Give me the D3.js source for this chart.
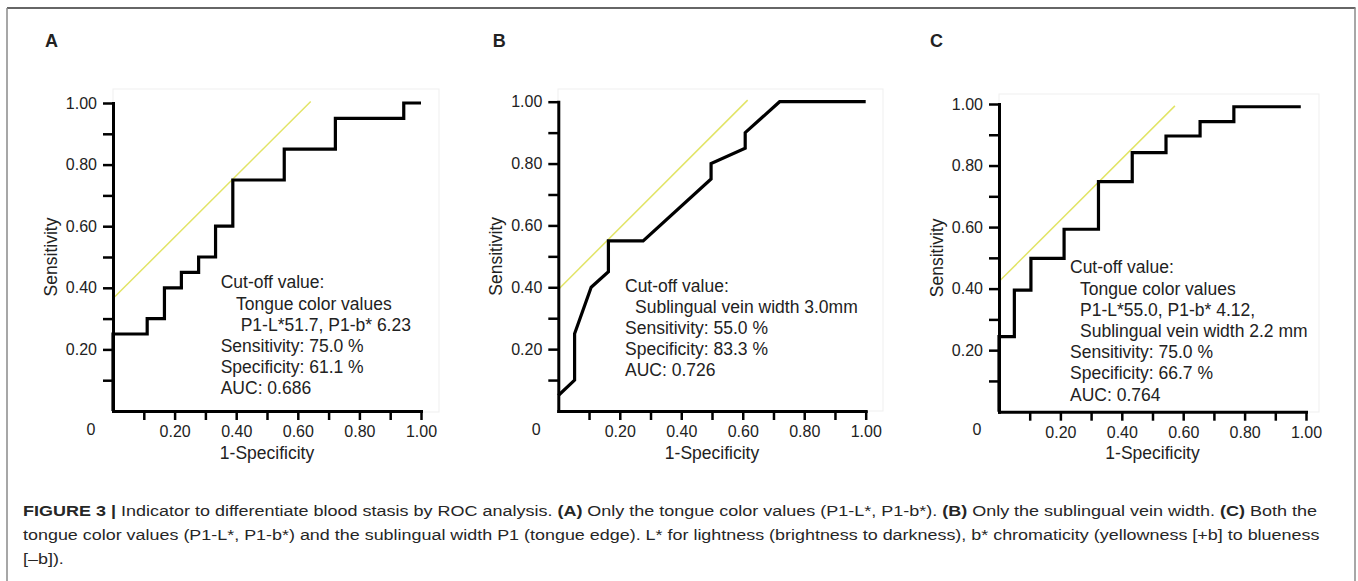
<!DOCTYPE html>
<html>
<head>
<meta charset="utf-8">
<script src="https://cdn.jsdelivr.net/npm/d3@7"></script>
<style>
  html, body { margin: 0; padding: 0; background: #fff; }
  svg { display: block; }
  text { font-family: "Liberation Sans", Arial, Helvetica, sans-serif; white-space: pre; }
</style>
</head>
<body>
<svg id="chart" width="1358" height="581"></svg>
<script>
// ---------------- DATA ----------------
const panelLabels = ["A", "B", "C"];
const xTickValues = [0.1, 0.2, 0.3, 0.4, 0.5, 0.6, 0.7, 0.8, 0.9, 1.0];
const yTickValues = [0.1, 0.2, 0.3, 0.4, 0.5, 0.6, 0.7, 0.8, 0.9, 1.0];
const labelledTicks = [0.2, 0.4, 0.6, 0.8, 1.0];
const tickLabels = ["0.20", "0.40", "0.60", "0.80", "1.00"];
const originLabel = "0";
const xTitle = "1-Specificity";
const yTitle = "Sensitivity";

// Panel A: tongue colour values
const rocA_fpr = [0, 0, 0.111, 0.111, 0.167, 0.167, 0.222, 0.222, 0.278, 0.278, 0.333, 0.333, 0.389, 0.389, 0.556, 0.556, 0.722, 0.722, 0.944, 0.944, 1.0];
const rocA_tpr = [0, 0.25, 0.25, 0.30, 0.30, 0.40, 0.40, 0.45, 0.45, 0.50, 0.50, 0.60, 0.60, 0.75, 0.75, 0.85, 0.85, 0.95, 0.95, 1.0, 1.0];
const tangentA_x = [0, 0.642];
const tangentA_y = [0.365, 1.005];
const annotA = ["Cut-off value:", "Tongue color values", "P1-L*51.7, P1-b* 6.23", "Sensitivity: 75.0 %", "Specificity: 61.1 %", "AUC: 0.686"];

// Panel B: sublingual vein width
const rocB_fpr = [0, 0.053, 0.053, 0.107, 0.163, 0.163, 0.276, 0.497, 0.497, 0.608, 0.608, 0.72, 1.0];
const rocB_tpr = [0.05, 0.10, 0.25, 0.40, 0.45, 0.55, 0.55, 0.75, 0.80, 0.85, 0.90, 1.0, 1.0];
const tangentB_x = [0, 0.616];
const tangentB_y = [0.393, 1.005];
const annotB = ["Cut-off value:", "Sublingual vein width 3.0mm", "Sensitivity: 55.0 %", "Specificity: 83.3 %", "AUC: 0.726"];

// Panel C: both
const rocC_fpr = [0, 0, 0.05, 0.05, 0.104, 0.104, 0.212, 0.212, 0.324, 0.324, 0.434, 0.434, 0.544, 0.544, 0.655, 0.655, 0.765, 0.765, 0.983];
const rocC_tpr = [0, 0.244, 0.244, 0.395, 0.395, 0.498, 0.498, 0.593, 0.593, 0.748, 0.748, 0.842, 0.842, 0.896, 0.896, 0.943, 0.943, 0.991, 0.991];
const tangentC_x = [0, 0.573];
const tangentC_y = [0.423, 0.994];
const annotC = ["Cut-off value:", "Tongue color values", "P1-L*55.0, P1-b* 4.12,", "Sublingual vein width 2.2 mm", "Sensitivity: 75.0 %", "Specificity: 66.7 %", "AUC: 0.764"];

// Caption (text, bold?)
const captionLine1 = [["FIGURE 3 | ", true], ["Indicator to differentiate blood stasis by ROC analysis. ", false], ["(A)", true], [" Only the tongue color values (P1-L*, P1-b*). ", false], ["(B)", true], [" Only the sublingual vein width. ", false], ["(C)", true], [" Both the", false]];
const captionLine2 = [["tongue color values (P1-L*, P1-b*) and the sublingual width P1 (tongue edge). L* for lightness (brightness to darkness), b* chromaticity (yellowness [+b] to blueness", false]];
const captionLine3 = [["[\u2013b]).", false]];

// ---------------- LAYOUT ----------------
const panels = [
  { fpr: rocA_fpr, tpr: rocA_tpr, tx: tangentA_x, ty: tangentA_y, annot: annotA,
    x0: 113, x1: 421, y0: 411, y1: 103, bg: [113, 89, 439, 412],
    labelX: 45, annX: 220.7, annY: 288.3, indents: [0, 15.3, 20, 0, 0, 0] },
  { fpr: rocB_fpr, tpr: rocB_tpr, tx: tangentB_x, ty: tangentB_y, annot: annotB,
    x0: 558.3, x1: 865.7, y0: 411, y1: 101.7, bg: [558, 89, 883, 411],
    labelX: 492.7, annX: 625, annY: 291.5, indents: [0, 10, 0, 0, 0] },
  { fpr: rocC_fpr, tpr: rocC_tpr, tx: tangentC_x, ty: tangentC_y, annot: annotC,
    x0: 999, x1: 1306, y0: 411.7, y1: 104, bg: [999, 94, 1319, 412],
    labelX: 930, annX: 1070, annY: 273.3, indents: [0, 10, 10, 10, 0, 0, 0] }
];
const lineGap = 21.2;

const svg = d3.select("#chart");
svg.append("rect").attr("width", 1358).attr("height", 581).attr("fill", "#fff");

// Frame
svg.append("line").attr("x1", 7).attr("x2", 1355.5).attr("y1", 8).attr("y2", 8)
  .attr("stroke", "#333").attr("stroke-width", 1.5);
svg.append("line").attr("x1", 7).attr("x2", 7).attr("y1", 8).attr("y2", 581)
  .attr("stroke", "#8a8a8a").attr("stroke-width", 1.5);
svg.append("line").attr("x1", 1355).attr("x2", 1355).attr("y1", 8).attr("y2", 581)
  .attr("stroke", "#8a8a8a").attr("stroke-width", 1.5);

panels.forEach((p, i) => {
  const g = svg.append("g");
  const x = d3.scaleLinear().domain([0, 1]).range([p.x0, p.x1]);
  const y = d3.scaleLinear().domain([0, 1]).range([p.y0, p.y1]);

  // faint plot background frame
  g.append("rect").attr("x", p.bg[0]).attr("y", p.bg[1])
    .attr("width", p.bg[2] - p.bg[0]).attr("height", p.bg[3] - p.bg[1])
    .attr("fill", "#fff").attr("stroke", "#efefef").attr("stroke-width", 1);

  // panel label
  g.append("text").attr("x", p.labelX).attr("y", 46.5).text(panelLabels[i])
    .attr("font-size", 18).attr("font-weight", "bold").attr("fill", "#222");

  // tangent (yellow) line
  const tline = d3.line().x(d => x(d[0])).y(d => y(d[1]));
  g.append("path").datum(p.tx.map((v, k) => [v, p.ty[k]]))
    .attr("d", tline).attr("fill", "none").attr("stroke", "#e2e466").attr("stroke-width", 1.5);

  // axes
  const xAxis = d3.axisBottom(x).tickValues(xTickValues).tickSizeInner(9).tickSizeOuter(0)
    .tickFormat(d => { const k = labelledTicks.findIndex(t => Math.abs(t - d) < 1e-9); return k >= 0 ? tickLabels[k] : ""; });
  const yAxis = d3.axisLeft(y).tickValues(yTickValues).tickSizeInner(10).tickSizeOuter(0).tickPadding(6)
    .tickFormat(d => { const k = labelledTicks.findIndex(t => Math.abs(t - d) < 1e-9); return k >= 0 ? tickLabels[k] : ""; });

  const gx = g.append("g").attr("transform", `translate(0,${p.y0})`).call(xAxis);
  const gy = g.append("g").attr("transform", `translate(${p.x0},0)`).call(yAxis);
  [gx, gy].forEach(ax => {
    ax.select(".domain").attr("stroke", "#000").attr("stroke-width", 3).attr("stroke-linecap", "square");
    ax.selectAll(".tick line").attr("stroke", "#000").attr("stroke-width", 2.5);
    ax.selectAll(".tick text").attr("font-size", 16).attr("fill", "#222")
      .attr("font-family", "Liberation Sans, Arial, sans-serif");
  });
  gx.selectAll(".tick text").attr("dy", null).attr("y", 26);

  // origin label
  g.append("text").attr("x", p.x0 - 22).attr("y", 435).attr("text-anchor", "middle")
    .attr("font-size", 16).attr("fill", "#222").text(originLabel);

  // axis titles
  g.append("text").attr("x", (p.x0 + p.x1) / 2).attr("y", p.y0 + 47.5).attr("text-anchor", "middle")
    .attr("font-size", 17.5).attr("fill", "#222").text(xTitle);
  g.append("text").attr("transform", `translate(${p.x0 - 56},${(p.y0 + p.y1) / 2}) rotate(-90)`)
    .attr("text-anchor", "middle").attr("font-size", 17.5).attr("fill", "#222").text(yTitle);

  // ROC curve
  const line = d3.line().x(d => x(d[0])).y(d => y(d[1]));
  g.append("path").datum(p.fpr.map((v, k) => [v, p.tpr[k]]))
    .attr("d", line).attr("fill", "none").attr("stroke", "#000")
    .attr("stroke-width", 3.2).attr("stroke-linejoin", "miter");

  // annotation
  p.annot.forEach((t, k) => {
    g.append("text").attr("x", p.annX + p.indents[k]).attr("y", p.annY + k * lineGap)
      .attr("font-size", 17.5).attr("fill", "#222").text(t);
  });
});

// Caption
function captionLine(parts, baseline, targetWidth, forcedScale) {
  const t = svg.append("text").attr("x", 0).attr("y", 0).attr("font-size", 15.5).attr("fill", "#262626");
  parts.forEach(([s, b]) => {
    t.append("tspan").attr("font-weight", b ? "bold" : "normal").text(s);
  });
  const w = t.node().getComputedTextLength();
  const sx = forcedScale != null ? forcedScale : targetWidth / w;
  t.attr("transform", `translate(23,${baseline}) scale(${sx},1)`);
  return sx;
}
captionLine(captionLine1, 515.5, 1295);
const s2 = captionLine(captionLine2, 539.5, 1297);
captionLine(captionLine3, 563.5, null, s2);
</script>
</body>
</html>
